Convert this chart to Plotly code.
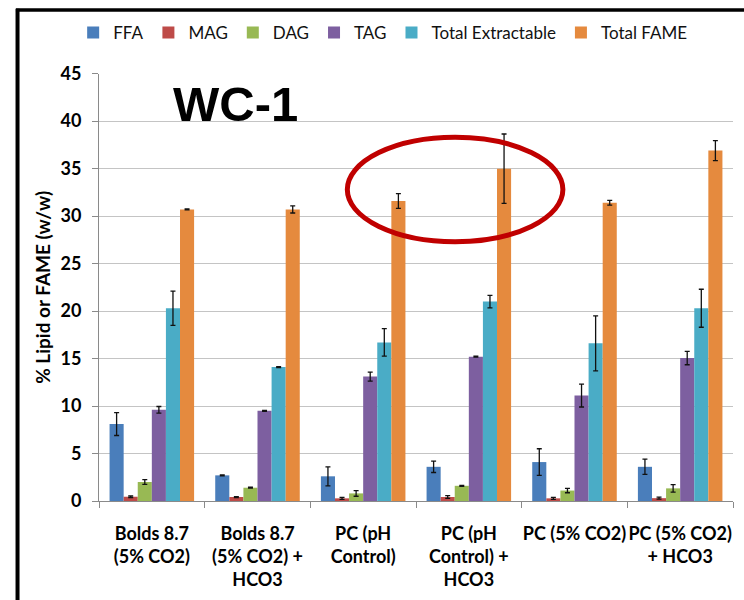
import plotly.graph_objects as go

categories = ["Bolds 8.7<br>(5% CO2)", "Bolds 8.7<br>(5% CO2) +<br>HCO3", "PC (pH<br>Control)",
              "PC (pH<br>Control) +<br>HCO3", "PC (5% CO2)", "PC (5% CO2)<br>+ HCO3"]

series_names = ["FFA", "MAG", "DAG", "TAG", "Total Extractable", "Total FAME"]

ffa = [8.1, 2.7, 2.6, 3.6, 4.1, 3.6]
ffa_err = [1.2, 0.05, 1.0, 0.6, 1.4, 0.8]
mag = [0.45, 0.42, 0.28, 0.42, 0.28, 0.3]
mag_err = [0.08, 0.05, 0.1, 0.15, 0.1, 0.1]
dag = [2.0, 1.4, 0.8, 1.6, 1.1, 1.33]
dag_err = [0.25, 0.05, 0.3, 0.05, 0.23, 0.4]
tag = [9.6, 9.5, 13.1, 15.2, 11.1, 15.05]
tag_err = [0.35, 0.05, 0.47, 0.05, 1.2, 0.7]
total_extr = [20.3, 14.1, 16.7, 21.0, 16.6, 20.3]
total_extr_err = [1.8, 0.05, 1.45, 0.66, 2.9, 2.0]
total_fame = [30.7, 30.7, 31.6, 35.0, 31.4, 36.9]
total_fame_err = [0.05, 0.37, 0.78, 3.65, 0.25, 1.05]

values = [ffa, mag, dag, tag, total_extr, total_fame]
errors = [ffa_err, mag_err, dag_err, tag_err, total_extr_err, total_fame_err]
colors = ["#4A7EBB", "#BE4B48", "#98B954", "#7D5FA0", "#4AACC6", "#E58A3E"]

FONT = "Lato"

fig = go.Figure()
for name, v, e, c in zip(series_names, values, errors, colors):
    fig.add_trace(go.Bar(
        name=name, x=categories, y=v, marker=dict(color=c, line=dict(width=0)),
        error_y=dict(type="data", array=e, visible=True, color="#111111", thickness=1.3, width=2.5),
    ))

# plot area in pixels: x 99..733, y 71..501
fig.update_layout(
    width=744, height=600,
    margin=dict(l=99, r=11, t=71, b=99),
    paper_bgcolor="white", plot_bgcolor="white",
    barmode="group", bargap=0.2, bargroupgap=0,
    font=dict(family=FONT, color="#000000"),
    legend=dict(orientation="h", xref="container", x=0.515, xanchor="center",
                yref="container", y=0.945, yanchor="middle",
                font=dict(family=FONT, size=17, color="#111111"), itemwidth=30,
                traceorder="normal", bgcolor="rgba(0,0,0,0)"),
    showlegend=True,
)
fig.update_yaxes(
    range=[0, 45], dtick=5, showgrid=True, gridcolor="#C4C4C4", gridwidth=1,
    showline=True, linecolor="#8A8A8A", linewidth=1, ticks="outside", ticklen=6,
    tickcolor="#8A8A8A", tickfont=dict(family=FONT, size=18, weight="bold"),
    ticklabelstandoff=7,
    title=dict(text="% Lipid or FAME (w/w)", font=dict(family=FONT, size=19, weight="bold"),
               standoff=4),
    zeroline=False, automargin=True,
)
fig.update_xaxes(
    showline=True, linecolor="#8A8A8A", linewidth=1, ticks="outside", ticklen=6,
    tickcolor="#8A8A8A", tickson="boundaries", showgrid=False, tickangle=0,
    tickfont=dict(family=FONT, size=18, weight="bold"), ticklabelstandoff=16,
    automargin=False,
)

fig.add_annotation(text="WC-1", xref="paper", yref="paper", x=0.216, y=0.928,
                   xanchor="center", yanchor="middle",
                   showarrow=False, font=dict(family="Liberation Sans", size=49, weight="bold",
                                              color="#000000"))

# red ellipse highlight
fig.add_shape(type="circle", xref="x", yref="y", x0=1.85, x1=3.89, y0=27.3, y1=38.3,
              line=dict(color="#C00000", width=5))

# chart frame (left and top black lines)
fig.add_shape(type="line", xref="paper", yref="paper", x0=-0.1285, x1=-0.1285, y0=-0.25, y1=1.152,
              line=dict(color="#000000", width=4))
fig.add_shape(type="line", xref="paper", yref="paper", x0=-0.131, x1=1.03, y0=1.1488, y1=1.1488,
              line=dict(color="#000000", width=3.5))

fig.write_html("out.html")
